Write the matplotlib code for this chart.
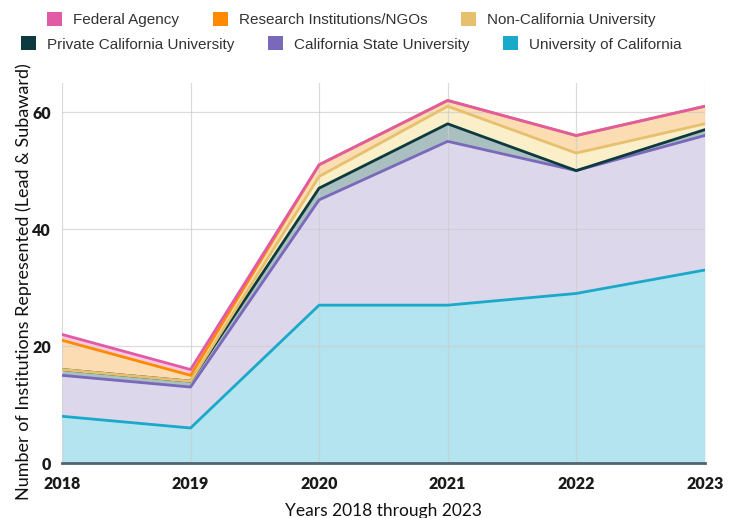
import matplotlib
matplotlib.use("Agg")
import matplotlib.pyplot as plt
import numpy as np
from matplotlib.patches import Patch

years = [2018, 2019, 2020, 2021, 2022, 2023]

# counts per group, stacked bottom to top
uc = [8, 6, 27, 27, 29, 33]
csu = [7, 7, 18, 28, 21, 23]
private_ca = [1, 1, 2, 3, 0, 1]
non_ca = [0, 0, 2, 3, 3, 1]
research = [5, 1, 2, 1, 3, 3]
federal = [1, 1, 0, 0, 0, 0]

names = ["University of California", "California State University",
         "Private California University", "Non-California University",
         "Research Institutions/NGOs", "Federal Agency"]
line_colors = ["#1aa9c9", "#7a68bb", "#0c3a3e", "#e6c06c", "#ff8a00", "#e05aa6"]
fill_colors = ["#b3e4ef", "#ddd7eb", "#a9bfc0", "#faefc8", "#fbdcb3", "#f6c9e0"]

series = [uc, csu, private_ca, non_ca, research, federal]

fig = plt.figure(figsize=(7.38, 5.18), dpi=100)
ax = fig.add_axes([0.084, 0.106, 0.871, 0.734])

bottom = np.zeros(len(years))
tops = []
for vals, fc in zip(series, fill_colors):
    top = bottom + np.array(vals)
    ax.fill_between(years, bottom, top, color=fc, lw=0, zorder=1)
    tops.append(top)
    bottom = top

for top, lc in zip(tops, line_colors):
    ax.plot(years, top, color=lc, lw=2, zorder=3)

ax.set_xlim(2018, 2023)
ax.set_ylim(0, 65)
ax.set_xticks(years)
ax.set_yticks([0, 20, 40, 60])
ax.grid(True, color="#cccccc", lw=0.9)
for gl in ax.get_xgridlines() + ax.get_ygridlines():
    gl.set_zorder(2)
    gl.set_alpha(0.7)

for s in ["top", "right", "left"]:
    ax.spines[s].set_visible(False)
ax.spines["bottom"].set_color("#4d6670")
ax.spines["bottom"].set_linewidth(2)
ax.spines["bottom"].set_zorder(4)
ax.tick_params(axis="x", length=0, pad=9)
ax.tick_params(axis="y", length=0, pad=8)
for lbl in ax.get_xticklabels() + ax.get_yticklabels():
    lbl.set_family("Lato")
    lbl.set_weight("heavy")
    lbl.set_fontsize(11.5)
    lbl.set_color("#1a1a1a")

ax.set_xlabel("Years 2018 through 2023", family="Lato", fontsize=12.5, labelpad=8, color="#111111")
ax.set_ylabel("Number of Institutions Represented (Lead & Subaward)",
              family="Lato", fontsize=13, color="#111111")
ax.yaxis.set_label_coords(-0.046, 0.476)

h = {n: Patch(facecolor=c, edgecolor="none") for n, c in zip(names, line_colors)}
row1 = ["Federal Agency", "Research Institutions/NGOs", "Non-California University"]
row2 = ["Private California University", "California State University", "University of California"]
leg_kw = dict(ncol=3, frameon=False, handlelength=1.0, handleheight=1.0,
              handletextpad=0.7, columnspacing=2.2, labelcolor="#333333",
              prop={"family": "Liberation Sans", "size": 11})
fig.legend([h[n] for n in row1], row1, loc="center", bbox_to_anchor=(0.476, 0.962), **leg_kw)
fig.legend([h[n] for n in row2], row2, loc="center", bbox_to_anchor=(0.476, 0.915), **leg_kw)

fig.savefig("out.png", dpi=100)
